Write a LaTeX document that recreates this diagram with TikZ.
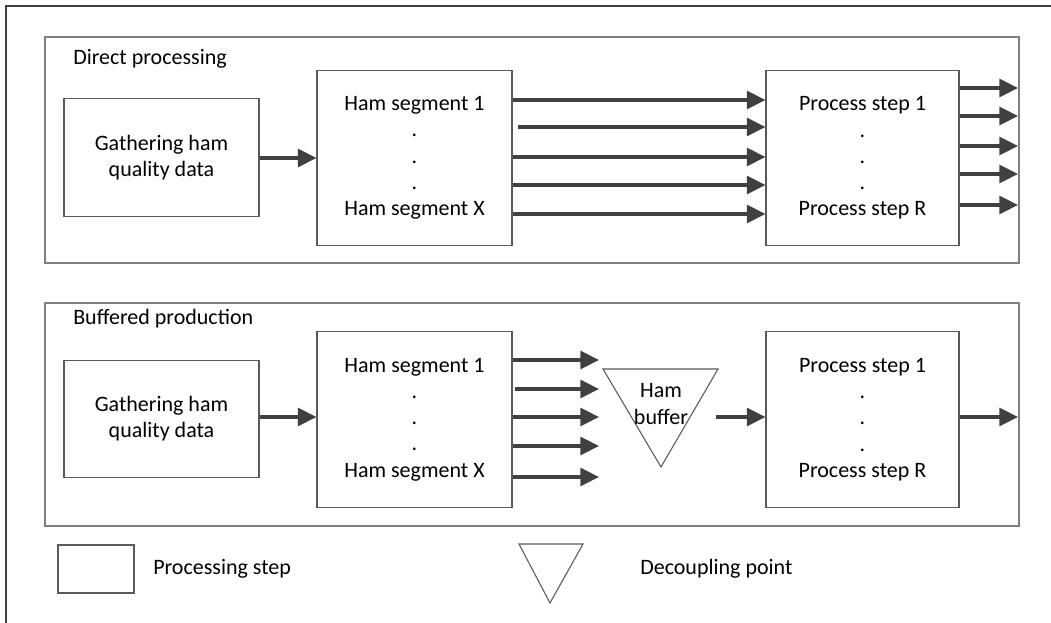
\documentclass[tikz,border=0pt]{standalone}
\usepackage{fontspec}
\setmainfont{Carlito}
\usetikzlibrary{arrows.meta}
\definecolor{arrowgray}{HTML}{404040}
\definecolor{boxgray}{HTML}{595959}
\definecolor{panelgray}{HTML}{7F7F7F}
\begin{document}
\begin{tikzpicture}[x=0.75pt,y=-0.75pt,
  txt/.style={font=\fontsize{16.5}{19.7}\selectfont,text=black},
  procbox/.style={draw=boxgray,line width=0.8pt,fill=white,align=center,inner sep=0pt,txt},
  gbox/.style={procbox,minimum width=146.25pt,minimum height=88pt},
  hbox/.style={procbox,minimum width=146.25pt,minimum height=131.5pt},
  pbox/.style={procbox,minimum width=144.75pt,minimum height=131.5pt},
  panel/.style={draw=panelgray,line width=0.8pt},
  tri/.style={draw=boxgray,line width=0.8pt},
  arr/.style={draw=arrowgray,line width=2.3pt,-{Triangle[length=14pt,width=13.5pt]}},
  title/.style={txt,anchor=base west,inner sep=0pt},
  plain/.style={font=\fontsize{16.5}{20.3}\selectfont,text=black,inner sep=0pt,align=center}
]
\useasboundingbox (0,0) rectangle (1051,623);
% outer frame (only top and left visible)
\draw[arrowgray,line width=0.8pt] (1051,6) -- (6,6) -- (6,623);

% ---------- Direct processing ----------
\draw[panel] (45,37) rectangle (1019,263);
\node[title] (t1) at (73,65) {Direct processing};
\node[gbox] (g1) at (161.5,157.5) {Gathering ham\\quality data};
\node[hbox] (h1) at (414.5,158) {Ham segment 1\\.\\.\\.\\Ham segment X};
\node[pbox] (p1) at (862.5,158) {Process step 1\\.\\.\\.\\Process step R};
\coordinate (o1) at (1018,0);

\draw[arr] (g1.east |- 0,158) -- (h1.west |- 0,158);
\draw[arr] (h1.east |- 0,100) -- (p1.west |- 0,100);
\draw[arr] ([xshift=3.75pt]h1.east |- 0,127) -- (p1.west |- 0,127);
\draw[arr] (h1.east |- 0,157) -- (p1.west |- 0,157);
\draw[arr] (h1.east |- 0,185) -- (p1.west |- 0,185);
\draw[arr] (h1.east |- 0,214) -- (p1.west |- 0,214);

\draw[arr] (p1.east |- 0,88) -- (o1 |- 0,88);
\draw[arr] (p1.east |- 0,116) -- (o1 |- 0,116);
\draw[arr] (p1.east |- 0,146) -- (o1 |- 0,146);
\draw[arr] (p1.east |- 0,174) -- (o1 |- 0,174);
\draw[arr] (p1.east |- 0,205) -- (o1 |- 0,205);

% ---------- Buffered production ----------
\draw[panel] (45,303) rectangle (1019,526);
\node[title] (t2) at (73,325) {Buffered production};
\node[gbox] (g2) at (161.5,419) {Gathering ham\\quality data};
\node[hbox] (h2) at (414.5,419.5) {Ham segment 1\\.\\.\\.\\Ham segment X};
\node[pbox] (p2) at (862.5,419.5) {Process step 1\\.\\.\\.\\Process step R};

\coordinate (b1) at (603,369);
\coordinate (b2) at (718,369);
\coordinate (b3) at (661,467);
\draw[tri] (b1) -- (b2) -- (b3) -- cycle;
\node[plain] (buf) at (661,404) {Ham\\buffer};
\coordinate (bi) at (599,0);
\coordinate (bo) at (716,417);
\coordinate (o2) at (1018,417);

\draw[arr] (g2.east |- 0,417) -- (h2.west |- 0,417);
\draw[arr] (h2.east |- 0,360) -- (bi |- 0,360);
\draw[arr] ([xshift=2pt]h2.east |- 0,389) -- (bi |- 0,389);
\draw[arr] (h2.east |- 0,417) -- (bi |- 0,417);
\draw[arr] (h2.east |- 0,446) -- (bi |- 0,446);
\draw[arr] (h2.east |- 0,477) -- (bi |- 0,477);
\draw[arr] (bo) -- (p2.west |- bo);
\draw[arr] (p2.east |- o2) -- (o2);

% ---------- Legend ----------
\node[procbox,minimum width=57pt,minimum height=36pt] (lbox) at (96,569) {};
\node[txt,anchor=west,inner sep=0pt] (lboxt) at (153,569) {Processing step};
\coordinate (l1) at (519,544);
\coordinate (l2) at (583,544);
\coordinate (l3) at (550,603);
\draw[tri] (l1) -- (l2) -- (l3) -- cycle;
\node[txt,anchor=west,inner sep=0pt] (ltrit) at (640,569) {Decoupling point};
\end{tikzpicture}
\end{document}
